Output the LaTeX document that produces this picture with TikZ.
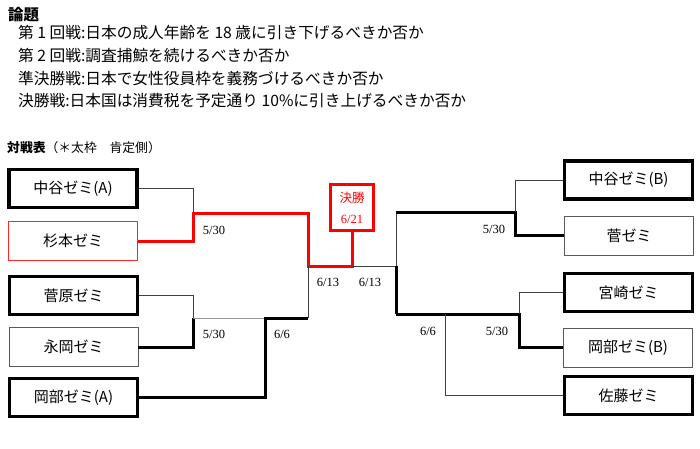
\documentclass[tikz,border=0pt]{standalone}
\usepackage{fontspec}
\setmainfont{Noto Sans CJK JP}
\newfontfamily\datefont{Liberation Serif}
\begin{document}
\begin{tikzpicture}[x=1pt,y=-1pt,
  team/.style={draw, rectangle, inner sep=0pt, font=\fontsize{15}{15}\selectfont},
  win/.style={team, line width=3.2pt, minimum width=128pt, minimum height=38pt},
  lose/.style={team, line width=0.9pt, draw=black!65, minimum width=129pt, minimum height=39pt},
  redbox/.style={team, line width=0.9pt, draw=red!85, minimum width=129pt, minimum height=39pt},
  thinln/.style={line width=0.9pt, black!75},
  faintln/.style={line width=0.7pt, black!40},
  thickln/.style={line width=3pt, black},
  redln/.style={line width=3pt, red},
  datelbl/.style={font=\datefont\fontsize{12.5}{12.5}\selectfont, inner sep=0pt},
  hdr/.style={anchor=west, inner sep=0pt, font=\fontsize{15.7}{15.7}\selectfont}
]
\useasboundingbox (0,0) rectangle (700,448);

% header
\node[hdr, font=\bfseries\fontsize{15.5}{15.5}\selectfont] (t0) at (8,15) {論題};
\node[hdr] (t1) at (18,33) {第 1 回戦:日本の成人年齢を 18 歳に引き下げるべきか否か};
\node[hdr] (t2) at (18,56) {第 2 回戦:調査捕鯨を続けるべきか否か};
\node[hdr] (t3) at (18,79) {準決勝戦:日本で女性役員枠を義務づけるべきか否か};
\node[hdr] (t4) at (18,101) {決勝戦:日本国は消費税を予定通り 10\%に引き上げるべきか否か};
\node[hdr, font=\fontsize{12.8}{12.8}\selectfont] (t5) at (7,148) {\textbf{対戦表}（＊太枠　肯定側）};

% left teams
\node[win] (L1) at (73,188.5) {中谷ゼミ(A)};
\node[redbox] (L2) at (73,241) {杉本ゼミ};
\node[win] (L3) at (73.5,295.5) {菅原ゼミ};
\node[lose] (L4) at (73.5,347) {永岡ゼミ};
\node[win] (L5) at (73.5,397.5) {岡部ゼミ(A)};

% right teams
\node[win] (R1) at (628.5,180) {中谷ゼミ(B)};
\node[lose] (R2) at (629,235.5) {菅ゼミ};
\node[win] (R3) at (628.5,292.5) {宮崎ゼミ};
\node[lose] (R4) at (628,347.5) {岡部ゼミ(B)};
\node[win] (R5) at (628.5,395.5) {佐藤ゼミ};

% final
\node[draw=red, line width=3pt, minimum width=43pt, minimum height=46pt, inner sep=0pt,
      align=center, text=red, font=\fontsize{12.5}{21}\selectfont] (F) at (352,207.5)
      {決勝\\{\datefont 6/21}};

% junctions
\coordinate (a1) at (193,213);
\coordinate (a2) at (193,318);
\coordinate (b1) at (265,318);
\coordinate (sf) at (308,266);
\coordinate (sfb) at (308,318);
\coordinate (fc) at (352,266);
\coordinate (rc) at (396,266);
\coordinate (rt) at (396,212);
\coordinate (rb) at (396,314);
\coordinate (c1) at (515,212);
\coordinate (c2) at (519,314);
\coordinate (c3) at (445,314);

% left bracket
\draw[thinln] (L1.east) -| (a1);
\draw[redln] (L2.east) -| (a1) -| (sf) -- (fc) -- (F.south);
\draw[thinln] (L3.east) -| (a2);
\draw[thickln] (L4.east) -| (a2);
\draw[faintln] (a2) -- (b1);
\draw[thickln] (L5.east) -| (b1) -- (sfb);
\draw[thinln] (sf) -- (sfb);

% right bracket
\draw[thinln] (fc) -- (rc) -- (rt);
\draw[thickln] (rc) -- (rb);
\draw[thickln] (rt) -- (c1) |- (R2.west);
\draw[thinln] (c1) |- (R1.west);
\draw[thickln] (rb) -- (c2) |- (R4.west);
\draw[thinln] (c2) |- (R3.west);
\draw[thinln] (c3) |- (R5.west);

% date labels
\node[datelbl] (d1) at (214,230) {5/30};
\node[datelbl] (d2) at (214,334) {5/30};
\node[datelbl] (d3) at (282,334) {6/6};
\node[datelbl] (d4) at (328,282) {6/13};
\node[datelbl] (d5) at (370,282) {6/13};
\node[datelbl] (d6) at (494,229) {5/30};
\node[datelbl] (d7) at (428,331) {6/6};
\node[datelbl] (d8) at (497,331) {5/30};
\end{tikzpicture}
\end{document}
